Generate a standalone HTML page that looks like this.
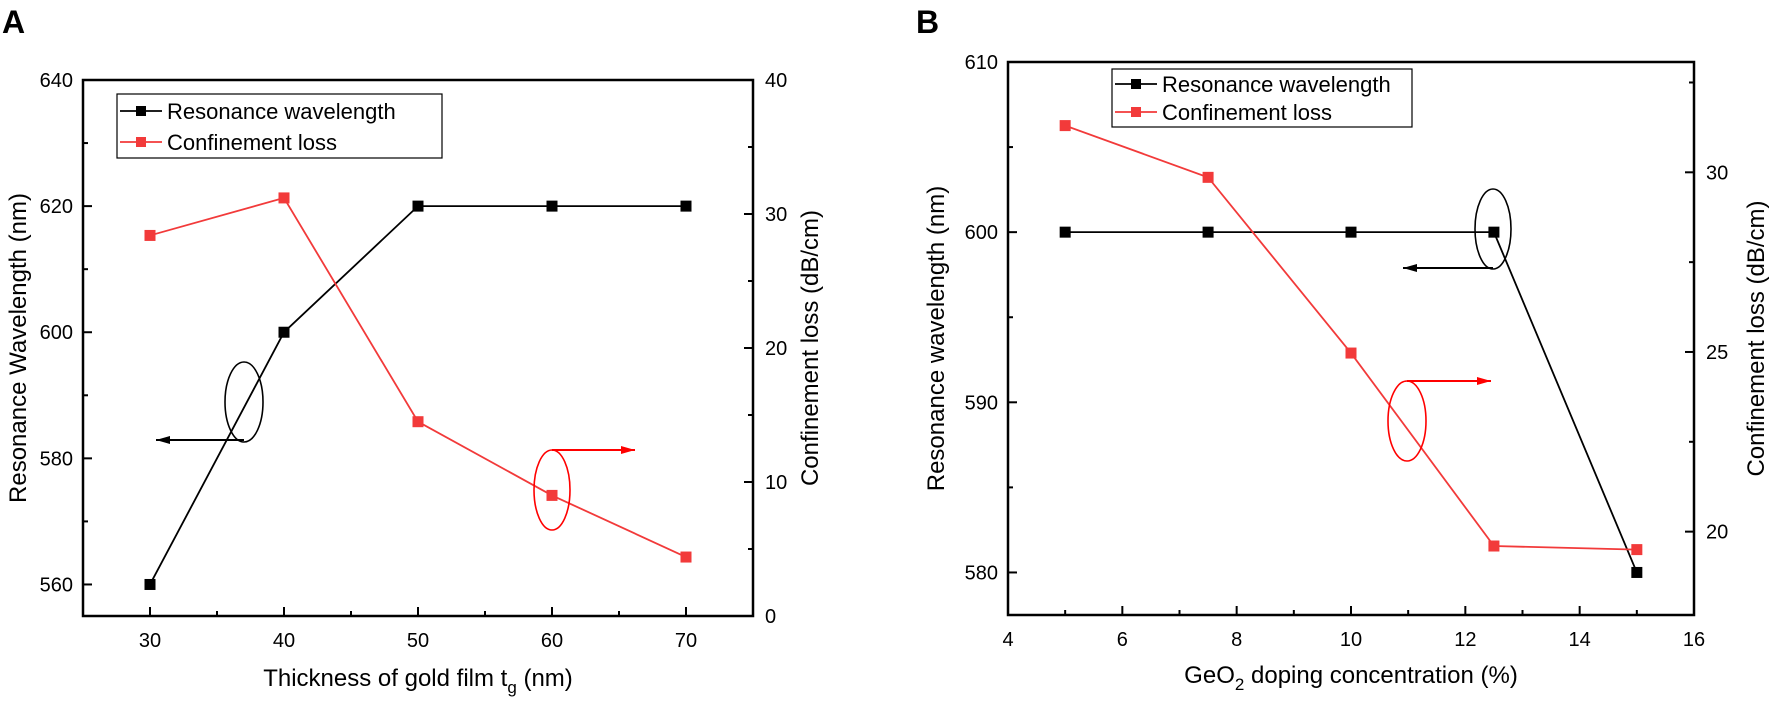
<!DOCTYPE html>
<html><head><meta charset="utf-8"><style>
body{margin:0;background:#fff;}
svg{display:block;font-family:"Liberation Sans",Arial,sans-serif;}
</style></head><body>
<svg id="chart" width="1772" height="703" viewBox="0 0 1772 703" xmlns="http://www.w3.org/2000/svg"></svg>
<script>
// Panel A data
const aThickness = [30, 40, 50, 60, 70];
const aResonance = [560, 600, 620, 620, 620];
const aLoss = [28.4, 31.2, 14.5, 9.0, 4.4];
const aXTicks = [30, 40, 50, 60, 70];
const aYLeftTicks = [560, 580, 600, 620, 640];
const aYRightTicks = [0, 10, 20, 30, 40];
// Panel B data
const bDoping = [5, 7.5, 10, 12.5, 15];
const bResonance = [600, 600, 600, 600, 580];
const bLoss = [31.3, 29.86, 24.97, 19.6, 19.5];
const bXTicks = [4, 6, 8, 10, 12, 14, 16];
const bYLeftTicks = [580, 590, 600, 610];
const bYRightTicks = [20, 25, 30];

const NS = "http://www.w3.org/2000/svg";
const svg = document.getElementById('chart');
function mk(tag, attrs, parent) {
  const e = document.createElementNS(NS, tag);
  for (const k in attrs) e.setAttribute(k, attrs[k]);
  (parent || svg).appendChild(e);
  return e;
}
function lin(d0, d1, r0, r1) { return v => r0 + (v - d0) / (d1 - d0) * (r1 - r0); }

function panel(cfg) {
  const g = mk('g', {});
  
  
  const {L, R, T, B} = cfg;
  const x = lin(cfg.xd[0], cfg.xd[1], L, R);
  const yl = lin(cfg.yl[0], cfg.yl[1], B, T);
  const yr = lin(cfg.yr[0], cfg.yr[1], B, T);
  const frame = mk('rect', {x: L, y: T, width: R - L, height: B - T, fill: 'none', stroke: '#000', 'stroke-width': 2.5}, g);
  
  
  cfg.xTicks.forEach(t => {
    mk('line', {x1: x(t), x2: x(t), y1: B, y2: B - 9, stroke: '#000', 'stroke-width': 2}, g);
    const tx = mk('text', {x: x(t), y: B + 31, 'font-size': 20, 'text-anchor': 'middle'}, g);
    tx.textContent = t;
    
    
  });
  cfg.xMinor.forEach(t => mk('line', {x1: x(t), x2: x(t), y1: B, y2: B - 5, stroke: '#000', 'stroke-width': 2}, g));
  cfg.ylTicks.forEach(t => {
    mk('line', {x1: L, x2: L + 9, y1: yl(t), y2: yl(t), stroke: '#000', 'stroke-width': 2}, g);
    const tx = mk('text', {x: L - 10, y: yl(t) + 7, 'font-size': 20, 'text-anchor': 'end'}, g);
    tx.textContent = t;
    
    
  });
  cfg.ylMinor.forEach(t => mk('line', {x1: L, x2: L + 5, y1: yl(t), y2: yl(t), stroke: '#000', 'stroke-width': 2}, g));
  cfg.yrTicks.forEach(t => {
    mk('line', {x1: R, x2: R - 9, y1: yr(t), y2: yr(t), stroke: '#000', 'stroke-width': 2}, g);
    const tx = mk('text', {x: R + 12, y: yr(t) + 7, 'font-size': 20, 'text-anchor': 'start'}, g);
    tx.textContent = t;
    
    
  });
  cfg.yrMinor.forEach(t => mk('line', {x1: R, x2: R - 5, y1: yr(t), y2: yr(t), stroke: '#000', 'stroke-width': 2}, g));
  function series(xs, ys, sc, color, nm) {
    const pts = xs.map((v, i) => x(v) + ',' + sc(ys[i])).join(' ');
    const pl = mk('polyline', {points: pts, fill: 'none', stroke: color, 'stroke-width': 1.8}, g);
    
    
    xs.forEach((v, i) => {
      const r = mk('rect', {x: x(v) - 5.5, y: sc(ys[i]) - 5.5, width: 11, height: 11, fill: color}, g);
      
      
    });
  }
  series(cfg.xs, cfg.res, yl, '#000', 'resonance');
  series(cfg.xs, cfg.loss, yr, '#f23a3a', 'loss');
  const lg = mk('g', {}, g);
  
  
  const [lx, ly, lw, lh] = cfg.legend;
  mk('rect', {x: lx, y: ly, width: lw, height: lh, fill: '#fff', stroke: '#000', 'stroke-width': 1.2}, lg);
  [['Resonance wavelength', '#000', cfg.legRows[0]], ['Confinement loss', '#f23a3a', cfg.legRows[1]]].forEach(([lab, c, yy]) => {
    mk('line', {x1: lx + 3, x2: lx + 45, y1: yy, y2: yy, stroke: c, 'stroke-width': 1.8}, lg);
    mk('rect', {x: lx + 19, y: yy - 5, width: 10, height: 10, fill: c}, lg);
    const t = mk('text', {x: lx + 50, y: yy + 8, 'font-size': 22}, lg);
    t.textContent = lab;
    
    
  });
  cfg.ann.forEach(a => {
    mk('ellipse', {cx: a.cx, cy: a.cy, rx: a.rx, ry: a.ry, fill: 'none', stroke: a.c, 'stroke-width': 1.6}, g);
    mk('line', {x1: a.cx, x2: a.ax, y1: a.ay, y2: a.ay, stroke: a.c, 'stroke-width': 2}, g);
    const d = a.ax < a.cx ? 1 : -1;
    mk('polygon', {points: `${a.ax},${a.ay} ${a.ax + 14 * d},${a.ay - 4} ${a.ax + 14 * d},${a.ay + 4}`, fill: a.c}, g);
  });
  const xt = mk('text', {x: (L + R) / 2, y: cfg.xTitleY, 'font-size': 24, 'text-anchor': 'middle'}, g);
  xt.innerHTML = cfg.xTitle;
  
  
  const ylt = mk('text', {x: 0, y: 0, 'font-size': 24, 'text-anchor': 'middle', transform: `translate(${cfg.ylTitleX},${(T + B) / 2}) rotate(-90)`}, g);
  ylt.textContent = cfg.ylTitle;
  
  
  const yrt = mk('text', {x: 0, y: 0, 'font-size': 24, 'text-anchor': 'middle', transform: `translate(${cfg.yrTitleX},${(T + B) / 2}) rotate(-90)`}, g);
  yrt.textContent = 'Confinement loss (dB/cm)';
  
  
  const pl = mk('text', {x: cfg.labelX, y: 33, 'font-size': 32, 'font-weight': 'bold'}, g);
  pl.textContent = cfg.label;
  
  
}

panel({
  name: 'panel-a', label: 'A', labelX: 2,
  L: 83, R: 753, T: 80, B: 616,
  xd: [25, 75], yl: [555, 640], yr: [0, 40],
  xs: aThickness, res: aResonance, loss: aLoss,
  xTicks: aXTicks, xMinor: [35, 45, 55, 65],
  ylTicks: aYLeftTicks, ylMinor: [570, 590, 610, 630],
  yrTicks: aYRightTicks, yrMinor: [5, 15, 25, 35],
  legend: [117, 94, 325, 64], legRows: [111, 142],
  ann: [
    {cx: 244, cy: 402, rx: 19, ry: 40, c: '#000', ax: 156, ay: 440},
    {cx: 552, cy: 490, rx: 18, ry: 40, c: '#f00', ax: 635, ay: 450}
  ],
  xTitle: 'Thickness of gold film t<tspan font-size="17" dy="7">g</tspan><tspan dy="-7"> (nm)</tspan>', xTitleY: 686,
  ylTitle: 'Resonance Wavelength (nm)', ylTitleX: 26,
  yrTitleX: 818
});

panel({
  name: 'panel-b', label: 'B', labelX: 916,
  L: 1008, R: 1694, T: 62, B: 615,
  xd: [4, 16], yl: [577.5, 610], yr: [17.68, 33.07],
  xs: bDoping, res: bResonance, loss: bLoss,
  xTicks: bXTicks, xMinor: [5, 7, 9, 11, 13, 15],
  ylTicks: bYLeftTicks, ylMinor: [585, 595, 605],
  yrTicks: bYRightTicks, yrMinor: [22.5, 27.5, 32.5],
  legend: [1112, 69, 300, 58], legRows: [84, 112],
  ann: [
    {cx: 1493, cy: 229, rx: 18, ry: 40, c: '#000', ax: 1403, ay: 268},
    {cx: 1407, cy: 421, rx: 19, ry: 40, c: '#f00', ax: 1491, ay: 381}
  ],
  xTitle: 'GeO<tspan font-size="17" dy="7">2</tspan><tspan dy="-7"> doping concentration (%)</tspan>', xTitleY: 683,
  ylTitle: 'Resonance wavelength (nm)', ylTitleX: 944,
  yrTitleX: 1764
});
</script>
</body></html>
